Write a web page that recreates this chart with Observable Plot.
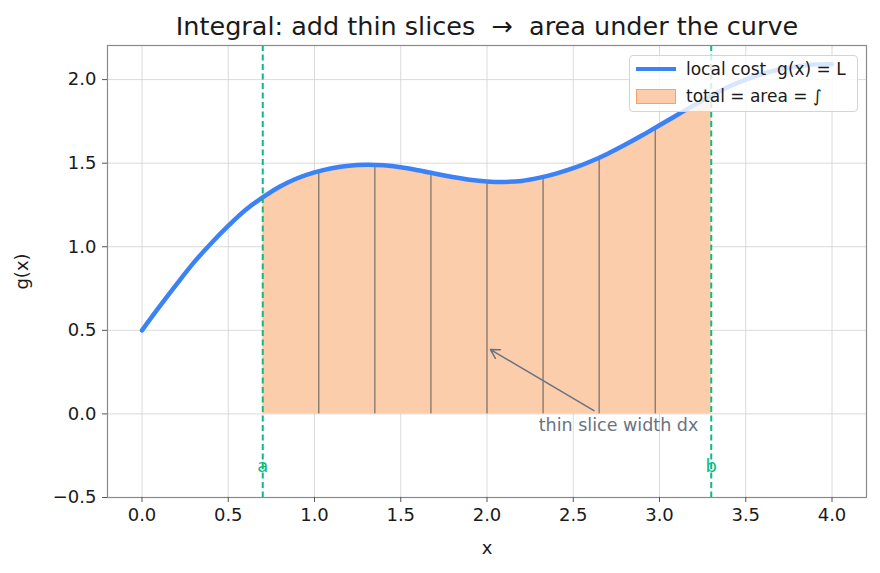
<!DOCTYPE html>
<html>
<head>
<meta charset="utf-8">
<script src="https://cdn.jsdelivr.net/npm/d3@7"></script>
<script src="https://cdn.jsdelivr.net/npm/@observablehq/plot@0.6"></script>
<style>
  html, body { margin: 0; padding: 0; background: #fff; }
  #wrap { position: relative; width: 880px; height: 573px; font-family: "DejaVu Sans", sans-serif; }
  .legend { position: absolute; left: 629px; top: 55px; width: 229px; height: 57px;
            border: 1px solid #d4d4d4; border-radius: 4px; background: rgba(255,255,255,0.8);
            box-sizing: border-box; font-size: 17px; color: #1a1a1a; }
  .legend .row { position: absolute; left: 6px; height: 22px; display: flex; align-items: center; white-space: pre; }
  .legend .swatch-line { width: 40px; height: 4px; background: #3b82f6; margin-right: 10px; }
  .legend .swatch-area { width: 38px; height: 13px; background: #fbcdab; border: 1px solid #f3a36c; margin-right: 10px; }
</style>
</head>
<body>
<div id="wrap"></div>
<script>
// sampled local cost g(x) on [0, 4]
const xs = [0, 0.1, 0.2, 0.3, 0.4, 0.5, 0.6, 0.7, 0.8, 0.9, 1.0, 1.1, 1.2, 1.3, 1.4, 1.5, 1.6, 1.7, 1.8, 1.9, 2.0,
            2.1, 2.2, 2.3, 2.4, 2.5, 2.6, 2.7, 2.8, 2.9, 3.0, 3.1, 3.2, 3.3, 3.4, 3.5, 3.6, 3.7, 3.8, 3.9, 4.0];
const gs = [0.50, 0.64, 0.775, 0.905, 1.02, 1.125, 1.22, 1.295, 1.36, 1.41, 1.445, 1.47, 1.485, 1.49, 1.487, 1.476, 1.458, 1.437, 1.417, 1.401, 1.391,
            1.388, 1.394, 1.412, 1.438, 1.47, 1.51, 1.557, 1.61, 1.667, 1.727, 1.787, 1.847, 1.905, 1.957, 2.0, 2.035, 2.062, 2.08, 2.09, 2.092];

// integration limits and slice edges
const limits = [0.7, 3.3];
const limitNames = ["a", "b"];
const sliceEdges = [1.025, 1.35, 1.675, 2.0, 2.325, 2.65, 2.975];
const sliceHeights = [1.452, 1.488, 1.432, 1.391, 1.419, 1.528, 1.717];

// annotation
const noteText = ["thin slice width dx"];
const noteAt = [2.3, -0.07];
const arrowFrom = [2.62, 0.02];
const arrowTo = [2.02, 0.385];

const yTicks = [-0.5, 0, 0.5, 1.0, 1.5, 2.0];
const xTicks = [0, 0.5, 1.0, 1.5, 2.0, 2.5, 3.0, 3.5, 4.0];

const curve = xs.map((x, i) => ({x, y: gs[i]}));
const filled = curve.filter(d => d.x >= limits[0] - 1e-9 && d.x <= limits[1] + 1e-9);
const slices = sliceEdges.map((x, i) => ({x, h: sliceHeights[i]}));
const fmt = d3.format(".1f");

const chart = Plot.plot({
  width: 880,
  height: 573,
  marginLeft: 107,
  marginRight: 14,
  marginTop: 45,
  marginBottom: 76,
  style: {fontFamily: "DejaVu Sans, sans-serif", fontSize: "18px", color: "#1a1a1a", background: "#fff"},
  x: {domain: [-0.2, 4.2]},
  y: {domain: [-0.5, 2.204]},
  marks: [
    Plot.gridX(xTicks, {stroke: "#d0d0d0", strokeOpacity: 1, strokeWidth: 0.8}),
    Plot.gridY(yTicks, {stroke: "#d0d0d0", strokeOpacity: 1, strokeWidth: 0.8}),
    Plot.areaY(filled, {x: "x", y: "y", fill: "#fbcdab", curve: "catmull-rom"}),
    Plot.ruleX(slices, {x: "x", y1: 0, y2: "h", stroke: "#5b5b5b", strokeWidth: 1}),
    Plot.line(curve, {x: "x", y: "y", stroke: "#3b82f6", strokeWidth: 4.5, curve: "catmull-rom"}),
    Plot.ruleX(limits, {stroke: "#10b981", strokeWidth: 2, strokeDasharray: "6,3.5"}),
    Plot.text(limitNames, {x: (d, i) => limits[i], y: -0.31, text: d => d, fill: "#10b981", fontSize: 18}),
    Plot.arrow([0], {x1: () => arrowFrom[0], y1: () => arrowFrom[1], x2: () => arrowTo[0], y2: () => arrowTo[1],
                     stroke: "#6b7280", strokeWidth: 1.5, headLength: 10}),
    Plot.text(noteText, {x: noteAt[0], y: noteAt[1], text: d => d, textAnchor: "start", fill: "#6b7280", fontSize: 17.5}),
    Plot.frame({stroke: "#8a8a8a", strokeWidth: 1.2}),
    Plot.axisX(xTicks, {tickFormat: fmt, tickSize: 5, tickPadding: 6, stroke: "#555", fontSize: 18,
                        label: "x", labelAnchor: "center", labelArrow: "none", labelOffset: 56}),
    Plot.axisY(yTicks, {tickFormat: fmt, tickSize: 5, tickPadding: 6, stroke: "#555", fontSize: 18,
                        label: "g(x)", labelAnchor: "center", labelArrow: "none", labelOffset: 92}),
    Plot.text(["Integral: add thin slices  \u2192  area under the curve"],
              {frameAnchor: "top", dy: -29, text: d => d, fontSize: 25.5, fill: "#1a1a1a"})
  ]
});

const wrap = document.getElementById("wrap");
wrap.appendChild(chart);

// legend box
const legend = document.createElement("div");
legend.className = "legend";
legend.innerHTML =
  '<div class="row" style="top:2px"><span class="swatch-line"></span><span>local cost  g(x) = L</span></div>' +
  '<div class="row" style="top:29px"><span class="swatch-area"></span><span>total = area = \u222B</span></div>';
wrap.appendChild(legend);
</script>
</body>
</html>
